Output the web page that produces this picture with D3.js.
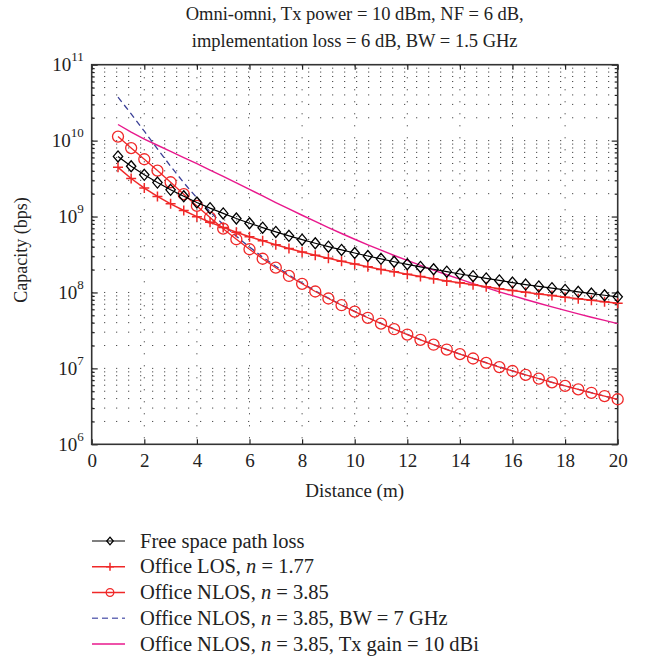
<!DOCTYPE html>
<html>
<head>
<meta charset="utf-8">
<script src="https://cdn.jsdelivr.net/npm/d3@7"></script>
<style>
  body { margin: 0; background: #fff; }
  svg { font-family: "Liberation Serif", "DejaVu Serif", serif; }
</style>
</head>
<body>
<div id="chart"></div>
<script>
/* DATA */
var distance = [1, 1.5, 2, 2.5, 3, 3.5, 4, 4.5, 5, 5.5, 6, 6.5, 7, 7.5, 8, 8.5, 9, 9.5, 10,
  10.5, 11, 11.5, 12, 12.5, 13, 13.5, 14, 14.5, 15, 15.5, 16, 16.5, 17, 17.5, 18, 18.5, 19, 19.5, 20];

var freeSpace = [6.19e9, 4.59e9, 3.54e9, 2.80e9, 2.25e9, 1.85e9, 1.53e9, 1.29e9, 1.10e9, 9.42e8,
  8.17e8, 7.14e8, 6.28e8, 5.57e8, 4.96e8, 4.45e8, 4.01e8, 3.63e8, 3.31e8, 3.02e8, 2.77e8, 2.54e8,
  2.35e8, 2.17e8, 2.02e8, 1.88e8, 1.75e8, 1.64e8, 1.53e8, 1.44e8, 1.35e8, 1.27e8, 1.20e8, 1.14e8,
  1.08e8, 1.02e8, 9.67e7, 9.19e7, 8.75e7];

var officeLos = [4.45e9, 3.17e9, 2.37e9, 1.84e9, 1.47e9, 1.20e9, 9.96e8, 8.41e8, 7.19e8, 6.22e8,
  5.43e8, 4.79e8, 4.25e8, 3.80e8, 3.42e8, 3.10e8, 2.82e8, 2.58e8, 2.37e8, 2.18e8, 2.01e8, 1.87e8,
  1.74e8, 1.62e8, 1.52e8, 1.42e8, 1.34e8, 1.26e8, 1.19e8, 1.12e8, 1.06e8, 1.01e8, 9.56e7, 9.09e7,
  8.65e7, 8.25e7, 7.88e7, 7.53e7, 7.21e7];

var officeNlos = [1.13e10, 7.97e9, 5.68e9, 4.03e9, 2.83e9, 1.97e9, 1.38e9, 9.70e8, 6.92e8, 5.02e8,
  3.71e8, 2.78e8, 2.12e8, 1.65e8, 1.30e8, 1.03e8, 8.33e7, 6.79e7, 5.58e7, 4.64e7, 3.88e7, 3.28e7,
  2.79e7, 2.38e7, 2.05e7, 1.77e7, 1.54e7, 1.35e7, 1.18e7, 1.04e7, 9.24e6, 8.21e6, 7.32e6, 6.55e6,
  5.87e6, 5.29e6, 4.77e6, 4.32e6, 3.92e6];

var nlosWideBw = [3.74e10, 2.25e10, 1.33e10, 7.80e9, 4.60e9, 2.79e9, 1.76e9, 1.16e9, 7.84e8, 5.50e8,
  3.96e8, 2.93e8, 2.21e8, 1.70e8, 1.33e8, 1.05e8, 8.45e7, 6.87e7, 5.64e7, 4.68e7, 3.91e7, 3.30e7,
  2.80e7, 2.39e7, 2.06e7, 1.78e7, 1.55e7, 1.35e7, 1.19e7, 1.05e7, 9.26e6, 8.22e6, 7.33e6, 6.55e6,
  5.88e6, 5.29e6, 4.78e6, 4.32e6, 3.92e6];

var nlosTxGain = [1.63e10, 1.29e10, 1.05e10, 8.69e9, 7.21e9, 5.98e9, 4.96e9, 4.10e9, 3.38e9, 2.78e9,
  2.28e9, 1.87e9, 1.53e9, 1.26e9, 1.04e9, 8.61e8, 7.16e8, 5.98e8, 5.02e8, 4.24e8, 3.60e8, 3.07e8,
  2.64e8, 2.27e8, 1.97e8, 1.71e8, 1.50e8, 1.31e8, 1.16e8, 1.02e8, 9.07e7, 8.07e7, 7.21e7, 6.46e7,
  5.80e7, 5.23e7, 4.72e7, 4.28e7, 3.88e7];

var xTicks = [0, 2, 4, 6, 8, 10, 12, 14, 16, 18, 20];
var yExponents = [6, 7, 8, 9, 10, 11];
var titleLines = ["Omni-omni, Tx power = 10 dBm, NF = 6 dB,", "implementation loss = 6 dB, BW = 1.5 GHz"];

/* CONSTANTS */
var margin = {top: 64.7, left: 91.7, right: 28.3, bottom: 214.7},
  width = 646 - margin.left - margin.right,
  height = 659 - margin.top - margin.bottom;

var x = d3.scaleLinear().domain([0, 20]).range([0, width]);
var y = d3.scaleLog().domain([1e6, 1e11]).range([height, 0]);

var yMajor = yExponents.map(function(e) { return Math.pow(10, e); });
var yMinor = [];
yExponents.slice(0, -1).forEach(function(e) {
  for (var k = 2; k <= 9; k++) yMinor.push(k * Math.pow(10, e));
});

var svg = d3.select("#chart").append("svg")
  .attr("width", 646)
  .attr("height", 659);

// title
svg.selectAll(".title")
  .data(titleLines)
  .enter().append("text")
  .attr("x", margin.left + width / 2)
  .attr("y", function(d, i) { return 20 + i * 27; })
  .attr("text-anchor", "middle")
  .style("font-size", "18.5px")
  .attr("fill", "#222")
  .text(function(d) { return d; });

var g = svg.append("g")
  .attr("transform", "translate(" + margin.left + "," + margin.top + ")");

// dotted grid
g.selectAll(".hgrid")
  .data(yMajor.slice(1, -1).concat(yMinor))
  .enter().append("line")
  .attr("x1", 0).attr("x2", width)
  .attr("y1", function(d) { return y(d); })
  .attr("y2", function(d) { return y(d); })
  .attr("stroke", "#222")
  .attr("stroke-width", 1)
  .attr("stroke-dasharray", "1,11")
  .attr("stroke-dashoffset", -0.5);

g.selectAll(".vgrid")
  .data(xTicks.slice(1, -1))
  .enter().append("line")
  .attr("x1", function(d) { return x(d); })
  .attr("x2", function(d) { return x(d); })
  .attr("y1", height).attr("y2", 0)
  .attr("stroke", "#222")
  .attr("stroke-width", 1)
  .attr("stroke-dasharray", "1,11")
  .attr("stroke-dashoffset", -6);

// axes with inward ticks
var xAxis = g.append("g")
  .attr("transform", "translate(0," + height + ")")
  .call(d3.axisBottom(x).tickValues(xTicks).tickSizeInner(-5).tickSizeOuter(0).tickPadding(9));

g.append("g")
  .call(d3.axisTop(x).tickValues(xTicks).tickSizeInner(-5).tickSizeOuter(0).tickFormat(""));

var yAxis = g.append("g")
  .call(d3.axisLeft(y).tickValues(yMajor).tickSizeInner(-6).tickSizeOuter(0).tickPadding(8));

g.append("g")
  .call(d3.axisLeft(y).tickValues(yMinor).tickSizeInner(-3).tickSizeOuter(0).tickFormat(""));

g.append("g")
  .attr("transform", "translate(" + width + ",0)")
  .call(d3.axisRight(y).tickValues(yMajor).tickSizeInner(-6).tickSizeOuter(0).tickFormat(""));

g.append("g")
  .attr("transform", "translate(" + width + ",0)")
  .call(d3.axisRight(y).tickValues(yMinor).tickSizeInner(-3).tickSizeOuter(0).tickFormat(""));

g.selectAll(".domain").remove();
g.selectAll(".tick line").attr("stroke", "#222").attr("stroke-width", 1.2);

xAxis.selectAll(".tick text")
  .style("font-size", "19px")
  .attr("fill", "#222")
  .attr("font-family", "Liberation Serif");

yAxis.selectAll(".tick text")
  .attr("font-family", "Liberation Serif")
  .attr("fill", "#222")
  .attr("dy", "0.38em")
  .style("font-size", "19px")
  .text(null)
  .each(function(d) {
    var t = d3.select(this);
    t.append("tspan").attr("dy", "0.3em").text("10");
    t.append("tspan").attr("dy", "-0.75em").style("font-size", "13px").text(Math.round(Math.log10(d)));
  });

// axis box
g.append("rect")
  .attr("width", width)
  .attr("height", height)
  .attr("fill", "none")
  .attr("stroke", "#333")
  .attr("stroke-width", 1.6);

// axis labels
svg.append("text")
  .attr("x", margin.left + width / 2)
  .attr("y", 497)
  .attr("text-anchor", "middle")
  .style("font-size", "19px")
  .attr("fill", "#222")
  .text("Distance (m)");

svg.append("text")
  .attr("transform", "translate(27,250) rotate(-90)")
  .attr("text-anchor", "middle")
  .style("font-size", "18px")
  .attr("fill", "#222")
  .text("Capacity (bps)");

/* SERIES */
var series = [
  {name: "fs", values: freeSpace, color: "#000", width: 1.2, dash: null, marker: "diamond"},
  {name: "los", values: officeLos, color: "#f02828", width: 1.5, dash: null, marker: "plus"},
  {name: "nlos", values: officeNlos, color: "#f02828", width: 1.3, dash: null, marker: "circle"},
  {name: "bw", values: nlosWideBw, color: "#3a3f96", width: 1.3, dash: "6,4", marker: null},
  {name: "gain", values: nlosTxGain, color: "#e8188c", width: 1.4, dash: null, marker: null}
];

var line = d3.line()
  .x(function(d) { return x(d[0]); })
  .y(function(d) { return y(d[1]); });

var plot = g.append("g");

function drawMarker(sel, type, cx, cy, size, color) {
  if (type === "diamond") {
    sel.append("path")
      .attr("d", "M" + cx + "," + (cy - size) + "L" + (cx + size * 0.85) + "," + cy +
        "L" + cx + "," + (cy + size) + "L" + (cx - size * 0.85) + "," + cy + "Z")
      .attr("fill", "none").attr("stroke", color).attr("stroke-width", 1.3);
  } else if (type === "circle") {
    sel.append("circle")
      .attr("cx", cx).attr("cy", cy).attr("r", size)
      .attr("fill", "none").attr("stroke", color).attr("stroke-width", 1.3);
  } else if (type === "plus") {
    sel.append("path")
      .attr("d", "M" + (cx - size) + "," + cy + "H" + (cx + size) + "M" + cx + "," + (cy - size) + "V" + (cy + size))
      .attr("fill", "none").attr("stroke", color).attr("stroke-width", 1.5);
  }
}

// draw back-to-front like the original: gain, bw, nlos, los, fs
[4, 3, 2, 1, 0].forEach(function(i) {
  var s = series[i];
  var pts = distance.map(function(d, j) { return [d, s.values[j]]; });
  plot.append("path")
    .datum(pts)
    .attr("d", line)
    .attr("fill", "none")
    .attr("stroke", s.color)
    .attr("stroke-width", s.width)
    .attr("stroke-dasharray", s.dash);
  if (s.marker) {
    var mg = plot.append("g");
    pts.forEach(function(p) {
      drawMarker(mg, s.marker, x(p[0]), y(p[1]), s.marker === "plus" ? 5 : 5.5, s.color);
    });
  }
});

/* LEGEND */
var legendItems = [
  {text: ["Free space path loss"], s: series[0]},
  {text: ["Office LOS, ", "n", " = 1.77"], s: series[1]},
  {text: ["Office NLOS, ", "n", " = 3.85"], s: series[2]},
  {text: ["Office NLOS, ", "n", " = 3.85, BW = 7 GHz"], s: series[3]},
  {text: ["Office NLOS, ", "n", " = 3.85, Tx gain = 10 dBi"], s: series[4]}
];

var legend = svg.append("g");
legendItems.forEach(function(item, i) {
  var cy = 541 + i * 25.75;
  var s = item.s;
  legend.append("line")
    .attr("x1", 92).attr("x2", 125)
    .attr("y1", cy).attr("y2", cy)
    .attr("stroke", s.name === "bw" ? "#6a6fb8" : s.color)
    .attr("stroke-width", s.width)
    .attr("stroke-dasharray", s.dash);
  if (s.marker) drawMarker(legend, s.marker, 110, cy, s.marker === "plus" ? 4 : 3.8, s.color);
  var t = legend.append("text")
    .attr("x", 140)
    .attr("y", cy + 6.5)
    .style("font-size", "20.5px")
    .attr("fill", "#222");
  item.text.forEach(function(part, k) {
    t.append("tspan")
      .style("font-style", k === 1 ? "italic" : "normal")
      .text(part);
  });
});
</script>
</body>
</html>
